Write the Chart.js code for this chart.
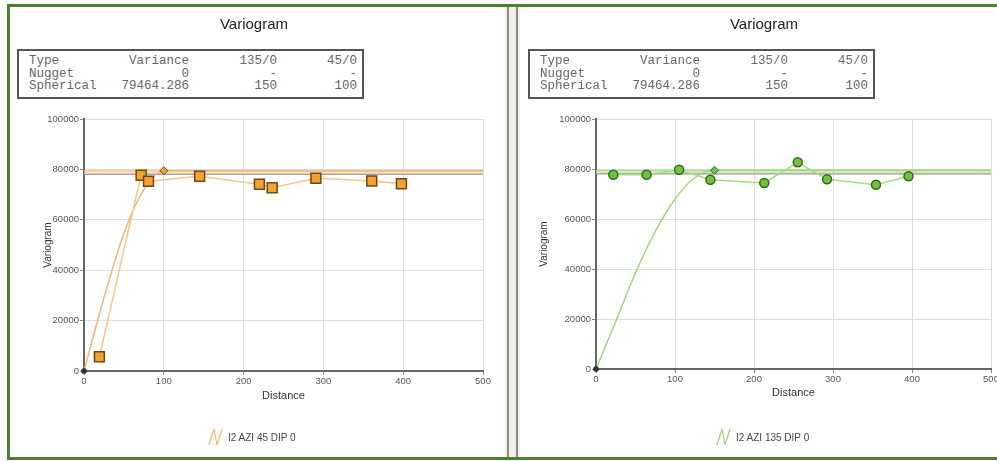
<!DOCTYPE html>
<html><head><meta charset="utf-8">
<script src="https://cdn.jsdelivr.net/npm/chart.js@4.4.0/dist/chart.umd.min.js"></script>
<style>
html,body{margin:0;padding:0;background:#fff;width:997px;height:461px;overflow:hidden;position:relative;font-family:"Liberation Sans",Arial,sans-serif}
.abs{position:absolute}
.title{position:absolute;top:15px;font-size:15px;color:#222;transform:translateX(-50%);white-space:nowrap}
.tbl{position:absolute;top:49px;width:343px;height:46px;border:2px solid #555;background:#fff;font-family:"Liberation Mono","DejaVu Sans Mono",monospace;font-size:12.5px;color:#666}
.cell{position:absolute;white-space:nowrap;line-height:12px}
.legend{position:absolute;top:428px;display:flex;align-items:center;font-size:10px;color:#444;white-space:nowrap}
.legend svg{margin-right:5px}
canvas{position:absolute}
</style></head><body>
<div class="abs" style="left:7px;top:4px;width:990px;height:3px;background:#527E33"></div>
<div class="abs" style="left:7px;top:4px;width:3px;height:456px;background:#527E33"></div>
<div class="abs" style="left:7px;top:457px;width:990px;height:3px;background:#527E33"></div>
<div class="abs" style="left:505px;top:7px;width:15px;height:450px;background:#F3F1E6"></div>
<div class="abs" style="left:507px;top:7px;width:2px;height:450px;background:#8C8C88"></div>
<div class="abs" style="left:516px;top:7px;width:2px;height:450px;background:#8C8C88"></div>

<canvas id="c1" width="494" height="449" style="left:11px;top:8px"></canvas>
<canvas id="c2" width="477" height="449" style="left:520px;top:8px"></canvas>

<div id="t1" class="title" style="left:254px"></div>
<div id="t2" class="title" style="left:764px"></div>
<div id="tb1" class="tbl" style="left:17px"></div>
<div id="tb2" class="tbl" style="left:528px"></div>
<div id="lg1" class="legend" style="left:208px"></div>
<div id="lg2" class="legend" style="left:716px"></div>

<script>
// ---- data ----
const chartTitle = "Variogram";
const xAxisTitle = "Distance";
const yAxisTitle = "Variogram";
const xTicks = [0, 100, 200, 300, 400, 500];
const yTicks = [0, 20000, 40000, 60000, 80000, 100000];

const tableHeader = ["Type", "Variance", "135/0", "45/0"];
const tableNugget = ["Nugget", "0", "-", "-"];
const tableSpherical = ["Spherical", "79464.286", "150", "100"];

const sill = 79464.286;
const dataVariance = 78100;

// left panel: I2 AZI 45 DIP 0 (range 100)
const leftLabel = "I2 AZI 45 DIP 0";
const leftRange = 100;
const leftDist  = [19.3, 71.6, 80.8, 144.9, 219.8, 235.8, 290.6, 360.6, 397.8];
const leftGamma = [5670, 77700, 75300, 77300, 74100, 72700, 76500, 75400, 74300];
const leftModelDist  = [0, 25, 50, 75, 100, 500];
const leftModelGamma = [0, 29000, 54600, 72000, 79464, 79464];

// right panel: I2 AZI 135 DIP 0 (range 150)
const rightLabel = "I2 AZI 135 DIP 0";
const rightRange = 150;
const rightDist  = [21.9, 64.0, 105.2, 144.8, 213.0, 255.4, 292.5, 354.4, 395.6];
const rightGamma = [77700, 77700, 79700, 75700, 74400, 82700, 75900, 73700, 77100];
const rightModelDist  = [0, 25, 50, 75, 100, 125, 150, 500];
const rightModelGamma = [0, 19000, 38500, 55000, 68000, 76500, 79464, 79464];

// ---- html parts ----
document.getElementById('t1').textContent = chartTitle;
document.getElementById('t2').textContent = chartTitle;

function buildTable(id) {
  const el = document.getElementById(id);
  const rows = [tableHeader, tableNugget, tableSpherical];
  const rights = [null, 172, 260, 340];
  rows.forEach((r, ri) => {
    r.forEach((txt, ci) => {
      const s = document.createElement('span');
      s.className = 'cell';
      s.textContent = txt;
      s.style.top = (4 + ri * 12.7) + 'px';
      if (ci === 0) s.style.left = '10px';
      else s.style.right = (345 - rights[ci]) + 'px';
      el.appendChild(s);
    });
  });
}
buildTable('tb1'); buildTable('tb2');

function buildLegend(id, label, color) {
  const el = document.getElementById(id);
  el.innerHTML = '<svg width="15" height="18" viewBox="0 0 15 18"><polyline points="1,17 6,1 9,17 14,1" fill="none" stroke="' + color + '" stroke-width="1.3"/></svg>';
  const s = document.createElement('span');
  s.textContent = label;
  el.appendChild(s);
}
buildLegend('lg1', leftLabel, '#F2B877');
buildLegend('lg2', rightLabel, '#9ED47E');

// ---- charts ----
function makeChart(canvasId, o) {
  const pts = o.dist.map((d, i) => ({x: d, y: o.gamma[i]}));
  const model = o.modelDist.map((d, i) => ({x: d, y: o.modelGamma[i]}));
  const rIdx = o.modelDist.indexOf(o.range);
  const mRadius = model.map((p, i) => i === 0 ? 2.5 : (i === rIdx ? 4 : 0));
  const mStyle = model.map((p, i) => i === rIdx ? 'rectRot' : 'circle');
  const mFill = model.map((p, i) => i === 0 ? '#333' : o.markFill);
  const mBorder = model.map((p, i) => i === 0 ? '#333' : o.markBorder);
  const xs = xTicks[0], xe = xTicks[xTicks.length - 1];

  return new Chart(document.getElementById(canvasId), {
    type: 'line',
    data: {
      datasets: [
        { label: 'exp', data: pts, order: 0, borderColor: o.expLine, borderWidth: 1.5,
          pointStyle: o.pointStyle, pointRadius: o.pointRadius, pointBackgroundColor: o.markFill,
          pointBorderColor: o.markBorder, pointBorderWidth: 1.5, fill: false, tension: 0 },
        { label: 'model', data: model, order: 1, borderColor: o.modelLine, borderWidth: 1.5,
          cubicInterpolationMode: 'monotone', pointRadius: mRadius, pointStyle: mStyle,
          pointBackgroundColor: mFill, pointBorderColor: mBorder, pointBorderWidth: 1, fill: false, clip: false },
        { label: 'sill', data: [{x: xs, y: sill}, {x: xe, y: sill}], order: 2, borderColor: o.bandLine,
          borderWidth: 1, pointRadius: 0, backgroundColor: o.bandFill, fill: '+1' },
        { label: 'variance', data: [{x: xs, y: dataVariance}, {x: xe, y: dataVariance}], order: 3,
          borderColor: '#9a9a9a', borderWidth: 1.5, pointRadius: 0, fill: false }
      ]
    },
    options: {
      responsive: false, animation: false, devicePixelRatio: 1,
      layout: { padding: { left: o.padLeft, right: o.padRight, top: 111, bottom: o.padBottom } },
      plugins: { legend: { display: false }, tooltip: { enabled: false } },
      scales: {
        x: {
          type: 'linear', min: xs, max: xe,
          afterBuildTicks: s => { s.ticks = xTicks.map(v => ({value: v})); },
          afterFit: s => { s.height = o.xHeight; s.paddingLeft = 0; s.paddingRight = 0; },
          ticks: { color: '#555', font: { size: 9.5, family: 'Liberation Sans' }, padding: 1, maxRotation: 0 },
          grid: { color: '#dedede', lineWidth: 1, tickLength: 4, tickColor: '#888' },
          border: { color: '#666', width: 2 },
          title: { display: true, text: xAxisTitle, color: '#333', font: { size: 11, family: 'Liberation Sans' }, padding: 0 }
        },
        y: {
          type: 'linear', min: yTicks[0], max: yTicks[yTicks.length - 1],
          afterBuildTicks: s => { s.ticks = yTicks.map(v => ({value: v})); },
          afterFit: s => { s.width = o.yWidth; s.paddingTop = 0; s.paddingBottom = 0; },
          ticks: { color: '#555', font: { size: 9.5, family: 'Liberation Sans' }, padding: 1, callback: v => String(v) },
          grid: { color: '#dedede', lineWidth: 1, tickLength: 4, tickColor: '#888' },
          border: { color: '#666', width: 2 },
          title: { display: true, text: yAxisTitle, color: '#333', font: { size: 10, family: 'Liberation Sans' }, padding: 0 }
        }
      }
    }
  });
}

makeChart('c1', {
  dist: leftDist, gamma: leftGamma, modelDist: leftModelDist, modelGamma: leftModelGamma, range: leftRange,
  pointStyle: 'rect', pointRadius: 7, markFill: '#F2A22E', markBorder: '#6B4818',
  expLine: '#F7C48C', modelLine: '#F4B676', bandLine: '#F3BE86', bandFill: 'rgba(244,205,160,0.6)',
  padLeft: 31, yWidth: 42, padRight: 22, padBottom: 54, xHeight: 32
});
makeChart('c2', {
  dist: rightDist, gamma: rightGamma, modelDist: rightModelDist, modelGamma: rightModelGamma, range: rightRange,
  pointStyle: 'circle', pointRadius: 4.5, markFill: '#74C043', markBorder: '#2F6B1A',
  expLine: '#A6DB88', modelLine: '#9FD67E', bandLine: '#A6D88A', bandFill: 'rgba(178,222,145,0.6)',
  padLeft: 18, yWidth: 58, padRight: 5, padBottom: 57, xHeight: 31
});
</script>
</body></html>
